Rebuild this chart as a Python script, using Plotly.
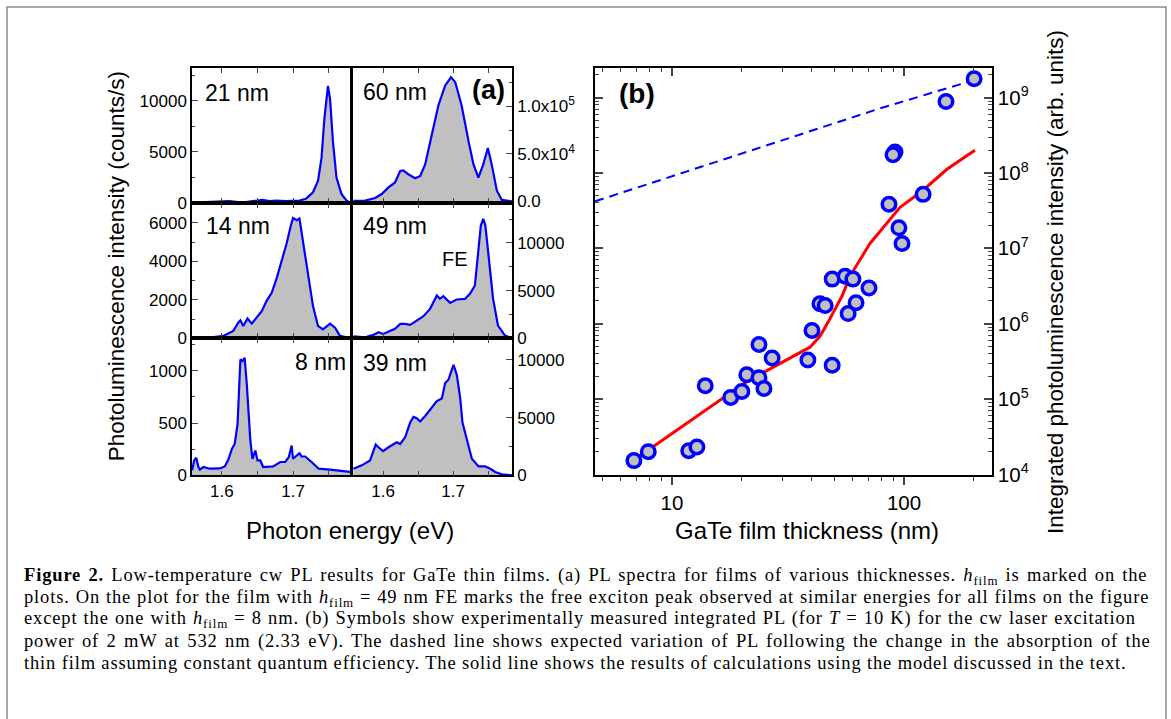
import plotly.graph_objects as go

W, H = 1171, 719
def fx(px): return px / W
def fy(py): return 1 - py / H

# ---------------- Panel (a) spectra ----------------
E_21 = [1.5582, 1.587, 1.6106, 1.629, 1.657, 1.667, 1.676, 1.690, 1.709, 1.718, 1.728, 1.735, 1.740, 1.744, 1.749, 1.752, 1.756, 1.761, 1.768, 1.775, 1.780]
I_21 = [60, 130, 190, 60, 320, 190, 256, 190, 256, 420, 1060, 2180, 4420, 8270, 11440, 10190, 6030, 2500, 900, 256, 20]

E_60 = [1.5576, 1.5743, 1.5886, 1.598, 1.6076, 1.617, 1.6243, 1.629, 1.636, 1.6457, 1.653, 1.660, 1.6695, 1.679, 1.6886, 1.697, 1.703, 1.712, 1.722, 1.729, 1.736, 1.743, 1.7495, 1.755, 1.7624, 1.7696, 1.7838]
I_60 = [300, 700, 3470, 7640, 14580, 19800, 31940, 32640, 28470, 24300, 26740, 38900, 70100, 101400, 122200, 130900, 125700, 101400, 63200, 38900, 25000, 38900, 56250, 38900, 11100, 1390, 0]

E_14 = [1.5582, 1.583, 1.602, 1.616, 1.623, 1.626, 1.630, 1.636, 1.642, 1.649, 1.656, 1.663, 1.670, 1.677, 1.684, 1.691, 1.697, 1.700, 1.705, 1.709, 1.714, 1.721, 1.728, 1.735, 1.742, 1.752, 1.759, 1.766, 1.780]
I_14 = [34, 34, 120, 380, 810, 930, 640, 1030, 760, 1070, 1410, 1960, 2360, 3130, 3990, 4940, 5880, 6260, 6140, 6230, 5020, 3300, 1670, 640, 460, 760, 550, 120, 0]

E_49 = [1.5576, 1.5743, 1.586, 1.5933, 1.600, 1.610, 1.617, 1.6243, 1.6314, 1.6386, 1.648, 1.6576, 1.667, 1.6767, 1.681, 1.686, 1.6957, 1.705, 1.717, 1.724, 1.731, 1.7357, 1.7395, 1.743, 1.746, 1.751, 1.757, 1.764, 1.774, 1.7838]
I_49 = [210, 100, 350, 630, 450, 800, 980, 1500, 1500, 1400, 1850, 2310, 3080, 4480, 4130, 4410, 3710, 4060, 4130, 4650, 5530, 8670, 11820, 12520, 11820, 8320, 4130, 1330, 280, 0]

E_8 = [1.5582, 1.561, 1.564, 1.567, 1.569, 1.574, 1.583, 1.597, 1.604, 1.609, 1.614, 1.618, 1.622, 1.624, 1.626, 1.629, 1.632, 1.635, 1.637, 1.640, 1.643, 1.647, 1.650, 1.654, 1.658, 1.672, 1.682, 1.689, 1.694, 1.698, 1.700, 1.705, 1.709, 1.712, 1.717, 1.726, 1.736, 1.752, 1.771, 1.780]
I_8 = [47, 142, 168, 79, 54, 79, 63, 66, 85, 149, 253, 300, 490, 870, 1108, 1092, 1124, 870, 601, 332, 158, 237, 142, 142, 79, 85, 127, 127, 174, 285, 158, 190, 212, 180, 180, 127, 63, 54, 41, 32]

E_39 = [1.5576, 1.5695, 1.5814, 1.5862, 1.5895, 1.5933, 1.600, 1.6076, 1.6148, 1.6195, 1.6243, 1.6314, 1.6386, 1.6433, 1.648, 1.6529, 1.660, 1.6695, 1.6767, 1.6838, 1.6886, 1.6933, 1.697, 1.7005, 1.7052, 1.710, 1.7133, 1.7195, 1.7267, 1.7362, 1.7457, 1.753, 1.760, 1.7695, 1.7838]
I_39 = [570, 860, 1290, 2140, 2660, 2430, 2090, 2430, 2710, 2860, 2710, 3290, 4570, 5060, 4940, 4660, 5140, 5860, 6430, 6660, 8000, 8290, 8860, 9570, 8710, 6710, 4570, 3000, 1430, 770, 770, 570, 290, 86, 0]

spectra_labels = ["21 nm", "60 nm", "14 nm", "49 nm", "8 nm", "39 nm"]

# ---------------- Panel (b) ----------------
thick = [6.85, 7.9, 11.8, 12.8, 13.9, 17.9, 20.0, 21.0, 23.7, 24.9, 23.7, 27.0, 38.5, 40.1, 49.0,
         43.4, 45.7, 57.4, 62.1, 49.0, 55.7, 60.2, 70.6, 86.1, 91.4, 89.6, 95.0, 98.0, 120.8, 151.6, 200.4]
pl_int = [1.52e4, 2.0e4, 2.06e4, 2.3e4, 1.5e5, 1.05e5, 1.26e5, 2.1e5, 1.92e5, 1.38e5, 5.3e5, 3.5e5, 3.3e5, 8.1e5, 2.8e5,
          1.84e6, 1.74e6, 1.36e6, 1.89e6, 3.9e6, 4.26e6, 3.9e6, 2.98e6, 3.85e7, 1.9e8, 1.75e8, 1.87e7, 1.16e7, 5.2e7, 8.9e8, 1.78e9]

model_x = [6.9, 21.0, 39.3, 43.4, 47.0, 54.1, 58.5, 71.3, 96.1, 120.8, 153, 202]
model_y = [1.57e4, 1.70e5, 4.87e5, 6.8e5, 1.04e6, 2.34e6, 4.28e6, 1.16e7, 3.5e7, 5.9e7, 1.12e8, 2.0e8]

absorb_x = [4.66, 78.8, 202]
absorb_y = [4.2e7, 7.2e8, 1.72e9]

x_major_b = [10, 100]
x_minor_b = [5, 6, 7, 8, 9, 20, 30, 40, 50, 60, 70, 80, 90, 200]
y_major_b = [1e4, 1e5, 1e6, 1e7, 1e8, 1e9]
y_major_b_text = ["10<sup>4</sup>", "10<sup>5</sup>", "10<sup>6</sup>", "10<sup>7</sup>", "10<sup>8</sup>", "10<sup>9</sup>"]
y_minor_b = [m * 10 ** e for e in range(4, 10) for m in range(2, 10)]

FONT = "Liberation Sans, Arial, sans-serif"
SERIF = "Liberation Serif, Times New Roman, serif"
BLUE = "#0000ff"
GRAY = "#c0c0c0"

fig = go.Figure()

spectra = [(E_21, I_21), (E_60, I_60), (E_14, I_14), (E_49, I_49), (E_8, I_8), (E_39, I_39)]
for i, (e, v) in enumerate(spectra, start=1):
    s = "" if i == 1 else str(i)
    fig.add_trace(go.Scatter(x=e, y=v, mode="lines", fill="tozeroy", fillcolor=GRAY,
                             line=dict(color=BLUE, width=2.2), xaxis="x" + s, yaxis="y" + s,
                             showlegend=False, hoverinfo="skip"))

fig.add_trace(go.Scatter(x=absorb_x, y=absorb_y, mode="lines", line=dict(color=BLUE, width=2, dash="9px,6px"),
                         xaxis="x7", yaxis="y7", showlegend=False))
fig.add_trace(go.Scatter(x=model_x, y=model_y, mode="lines", line=dict(color="#ff0000", width=3),
                         xaxis="x7", yaxis="y7", showlegend=False))
fig.add_trace(go.Scatter(x=thick, y=pl_int, mode="markers",
                         marker=dict(size=13.5, color=GRAY, line=dict(color=BLUE, width=3.5)),
                         xaxis="x7", yaxis="y7", showlegend=False))
fig.add_trace(go.Scatter(x=[], y=[], xaxis="x8", yaxis="y7", showlegend=False, hoverinfo="skip"))

# ---- axes geometry (pixels) ----
cols = [(192, 350), (353, 512)]
rows = [(69, 206), (206, 343), (343, 482)]
xr = [[1.558, 1.780], [1.557, 1.784]]
yranges = [[0, 13200], [-2000, 140600], [0, 7030], [0, 14170], [0, 1311], [0, 11880]]
yticks = [
    ([0, 5000, 10000], ["0", "5000", "10000"], 2500),
    ([0, 50000, 100000], ["0.0", "5.0x10<sup>4</sup>", "1.0x10<sup>5</sup>"], 25000),
    ([0, 2000, 4000, 6000], ["0", "2000", "4000", "6000"], 1000),
    ([0, 5000, 10000], ["0", "5000", "10000"], 2500),
    ([0, 500, 1000], ["0", "500", "1000"], 250),
    ([0, 5000, 10000], ["0", "5000", "10000"], 2500),
]
x_ticks_a = [1.6, 1.7]
x_text_a = ["1.6", "1.7"]
x_minor_a = [1.65, 1.75]

layout = dict(width=W, height=H, margin=dict(l=0, r=0, t=0, b=0), autosize=False,
              paper_bgcolor="white", plot_bgcolor="white", font=dict(family=FONT, color="black"))

for i in range(1, 7):
    s = "" if i == 1 else str(i)
    col = (i - 1) % 2
    row = (i - 1) // 2
    c0, c1 = cols[col]
    r0, r1 = rows[row]
    tv, tt, mdt = yticks[i - 1]
    layout["xaxis" + s] = dict(domain=[fx(c0), fx(c1)], anchor="y" + s, range=xr[col],
                               tickmode="array", tickvals=x_ticks_a, ticktext=x_text_a,
                               ticks="inside", ticklen=5, tickwidth=1.3, mirror="ticks",
                               minor=dict(tickmode="array", tickvals=x_minor_a, ticks="inside", ticklen=5, tickwidth=1.3, showgrid=False),
                               showline=True, linecolor="black", linewidth=1.5, showgrid=False,
                               zeroline=False, showticklabels=(row == 2), tickfont=dict(size=17))
    yr = yranges[i - 1]
    minor_vals = [k * mdt for k in range(0, int(yr[1] // mdt) + 1)]
    layout["yaxis" + s] = dict(domain=[fy(r1), fy(r0)], anchor="x" + s, range=yr,
                               side="left" if col == 0 else "right",
                               tickmode="array", tickvals=tv, ticktext=tt,
                               ticks="inside", ticklen=6, tickwidth=1.3, mirror=True,
                               minor=dict(tickmode="array", tickvals=minor_vals, ticks="inside", ticklen=3, tickwidth=1.2, showgrid=False),
                               showline=True, linecolor="black", linewidth=1.5, showgrid=False, zeroline=False,
                               tickfont=dict(size=17))

bx0, bx1, by0, by1 = 595, 992, 69, 482
xrange_b = [0.668, 2.379]
layout["xaxis7"] = dict(domain=[fx(bx0), fx(bx1)], anchor="y7", type="log", range=xrange_b,
                        tickmode="array", tickvals=x_major_b, ticktext=["10", "100"],
                        ticks="outside", ticklen=8, tickwidth=1.5,
                        minor=dict(tickmode="array", tickvals=x_minor_b, ticks="outside", ticklen=4, tickwidth=1.2, showgrid=False),
                        showline=True, mirror=True, linecolor="black", linewidth=1.5, showgrid=False,
                        tickfont=dict(size=20.5))
layout["xaxis8"] = dict(overlaying="x7", anchor="y7", side="top", type="log", range=xrange_b,
                        tickmode="array", tickvals=x_major_b, ticks="inside", ticklen=8, tickwidth=1.5,
                        minor=dict(tickmode="array", tickvals=x_minor_b, ticks="inside", ticklen=4, tickwidth=1.2, showgrid=False),
                        showticklabels=False, showline=False, showgrid=False)
layout["yaxis7"] = dict(domain=[fy(by1), fy(by0)], anchor="x7", type="log", range=[3.987, 9.393], side="right",
                        tickmode="array", tickvals=y_major_b, ticktext=y_major_b_text,
                        ticks="inside", ticklen=8, tickwidth=1.5, mirror="ticks",
                        minor=dict(tickmode="array", tickvals=y_minor_b, ticks="inside", ticklen=4, tickwidth=1.2, showgrid=False),
                        showline=True, linecolor="black", linewidth=1.5, showgrid=False,
                        tickfont=dict(size=20.5))

ann = []
def A(text, px, py, size, **kw):
    d = dict(text=text, x=fx(px), y=fy(py), xref="paper", yref="paper", showarrow=False,
             font=dict(size=size, family=kw.pop("family", FONT), color="black"),
             xanchor=kw.pop("xanchor", "center"), yanchor=kw.pop("yanchor", "middle"))
    d.update(kw)
    ann.append(d)

A(spectra_labels[0], 237, 94, 23)
A(spectra_labels[1], 395, 93, 23)
A(spectra_labels[2], 238, 229, 23)
A(spectra_labels[3], 395, 229, 23)
A(spectra_labels[4], 320, 367, 23)
A(spectra_labels[5], 395, 368, 23)
A("FE", 455, 263, 20)
A("<b>(a)</b>", 488, 91, 27)
A("<b>(b)</b>", 637, 95, 28)
A("Photoluminescence intensity (counts/s)", 116, 270, 22.5, textangle=-90)
A("Photon energy (eV)", 350, 538, 24)
A("GaTe film thickness (nm)", 807, 538, 24)
A("Integrated photoluminescence intensity (arb. units)", 1055, 286, 22.5, textangle=-90)

caption = [
    "<b>Figure 2.</b> Low-temperature cw PL results for GaTe thin films. (a) PL spectra for films of various thicknesses. <i>h</i><sub>film</sub> is marked on the",
    "plots. On the plot for the film with <i>h</i><sub>film</sub> = 49 nm FE marks the free exciton peak observed at similar energies for all films on the figure",
    "except the one with <i>h</i><sub>film</sub> = 8 nm. (b) Symbols show experimentally measured integrated PL (for <i>T</i> = 10 K) for the cw laser excitation",
    "power of 2 mW at 532 nm (2.33 eV). The dashed line shows expected variation of PL following the change in the absorption of the",
    "thin film assuming constant quantum efficiency. The solid line shows the results of calculations using the model discussed in the text.",
]
word_sp = [1.8, 0.5, 0.75, 2.0, 0.0]
for k, line in enumerate(caption):
    styled = "<span style='letter-spacing:0.85px;word-spacing:%.2fpx'>%s</span>" % (word_sp[k], line)
    A(styled, 22, 585 + 21.8 * k, 18.5, family=SERIF, xanchor="left")

layout["annotations"] = ann
layout["shapes"] = [dict(type="rect", xref="paper", yref="paper", x0=fx(7), x1=fx(1166), y0=fy(730), y1=fy(7),
                         line=dict(color="#8a8a8a", width=1.5), fillcolor="rgba(0,0,0,0)")]

fig.update_layout(**layout)
fig.write_html("out.html", config={"displayModeBar": False},
               post_script="document.body.style.margin='0';document.body.style.overflow='hidden';")
